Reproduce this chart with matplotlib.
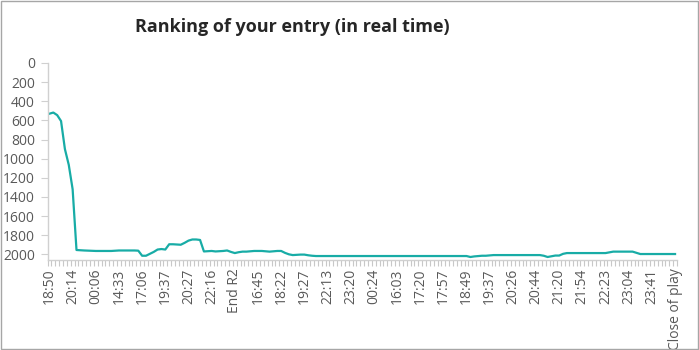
import matplotlib
matplotlib.use("Agg")
import matplotlib.pyplot as plt
from matplotlib.patches import Rectangle
import numpy as np

plt.rcParams['font.family'] = ['Open Sans', 'DejaVu Sans']

title = "Ranking of your entry (in real time)"

tick_labels = ["18:50", "20:14", "00:06", "14:33", "17:06", "19:37", "20:27", "22:16",
               "End R2", "16:45", "18:22", "19:27", "22:13", "23:20", "00:24", "16:03",
               "17:20", "17:57", "18:49", "19:37", "20:26", "20:44", "21:20", "21:54",
               "22:23", "23:04", "23:41", "Close of play"]
label_step = 6

part_a = [530, 518, 545, 607, 900, 1065, 1320, 1955, 1958, 1960,
          1962, 1965, 1965, 1965, 1965, 1965, 1965, 1962, 1960, 1960,
          1960, 1960, 1960, 1962, 2015, 2015, 1995, 1975, 1950, 1945,
          1950, 1895, 1895, 1898, 1900, 1880, 1857, 1845, 1845, 1850,
          1970, 1968, 1965, 1970, 1968, 1965, 1960, 1975, 1987, 1978,
          1972, 1972, 1968, 1965, 1965, 1965, 1968, 1972, 1968, 1965,
          1965, 1985, 2000, 2008, 2005, 2003, 2003, 2010, 2015, 2018]
part_b = [2018] * 39
part_c = [2028, 2022, 2018, 2015, 2015, 2012, 2008, 2008, 2008, 2008,
          2008, 2008, 2008, 2008, 2008, 2008, 2008, 2008, 2008, 2015,
          2028, 2020, 2013, 2013, 1995, 1987, 1987, 1987, 1987, 1987,
          1987, 1987, 1987, 1987, 1987, 1987, 1980, 1972, 1972, 1972,
          1972, 1972, 1972, 1985, 1997, 1997, 1997, 1997, 1997, 1997,
          1997, 1997, 1997, 1997]
ranking = part_a + part_b + part_c

n = len(ranking)
x = np.arange(n)

fig = plt.figure(figsize=(6.99, 3.5), dpi=100)
ax = fig.add_axes([0.068, 0.257, 0.9005, 0.563])

ax.plot(x, ranking, color='#18aca6', linewidth=1.6, solid_joinstyle='round')

ax.set_xlim(-0.5, n - 0.5)
ax.set_ylim(2060, 0)
ax.set_yticks(np.arange(0, 2001, 200))
ax.set_xticks(np.arange(0, n, label_step)[:len(tick_labels)])
ax.set_xticklabels(tick_labels, rotation=90)
ax.set_xticks(np.arange(-0.5, n, 1), minor=True)

for s in ['top', 'right']:
    ax.spines[s].set_visible(False)
for s in ['left', 'bottom']:
    ax.spines[s].set_color('#d0d0d0')
    ax.spines[s].set_linewidth(1.0)

ax.tick_params(axis='y', which='major', length=5, color='#d0d0d0', labelsize=10,
               labelcolor='#595959', pad=4)
ax.tick_params(axis='x', which='major', length=0, labelsize=10, labelcolor='#595959', pad=6)
ax.tick_params(axis='x', which='minor', length=4, color='#c8c8c8', width=0.8)

fig.text(0.418, 0.922, title, ha='center', va='center', fontsize=13,
         fontweight='bold', color='#262626')

fig.patches.append(Rectangle((0.001, 0.003), 0.997, 0.994, transform=fig.transFigure,
                             fill=False, edgecolor='#a6a6a6', linewidth=1.0))

fig.savefig("out.png", dpi=100)
